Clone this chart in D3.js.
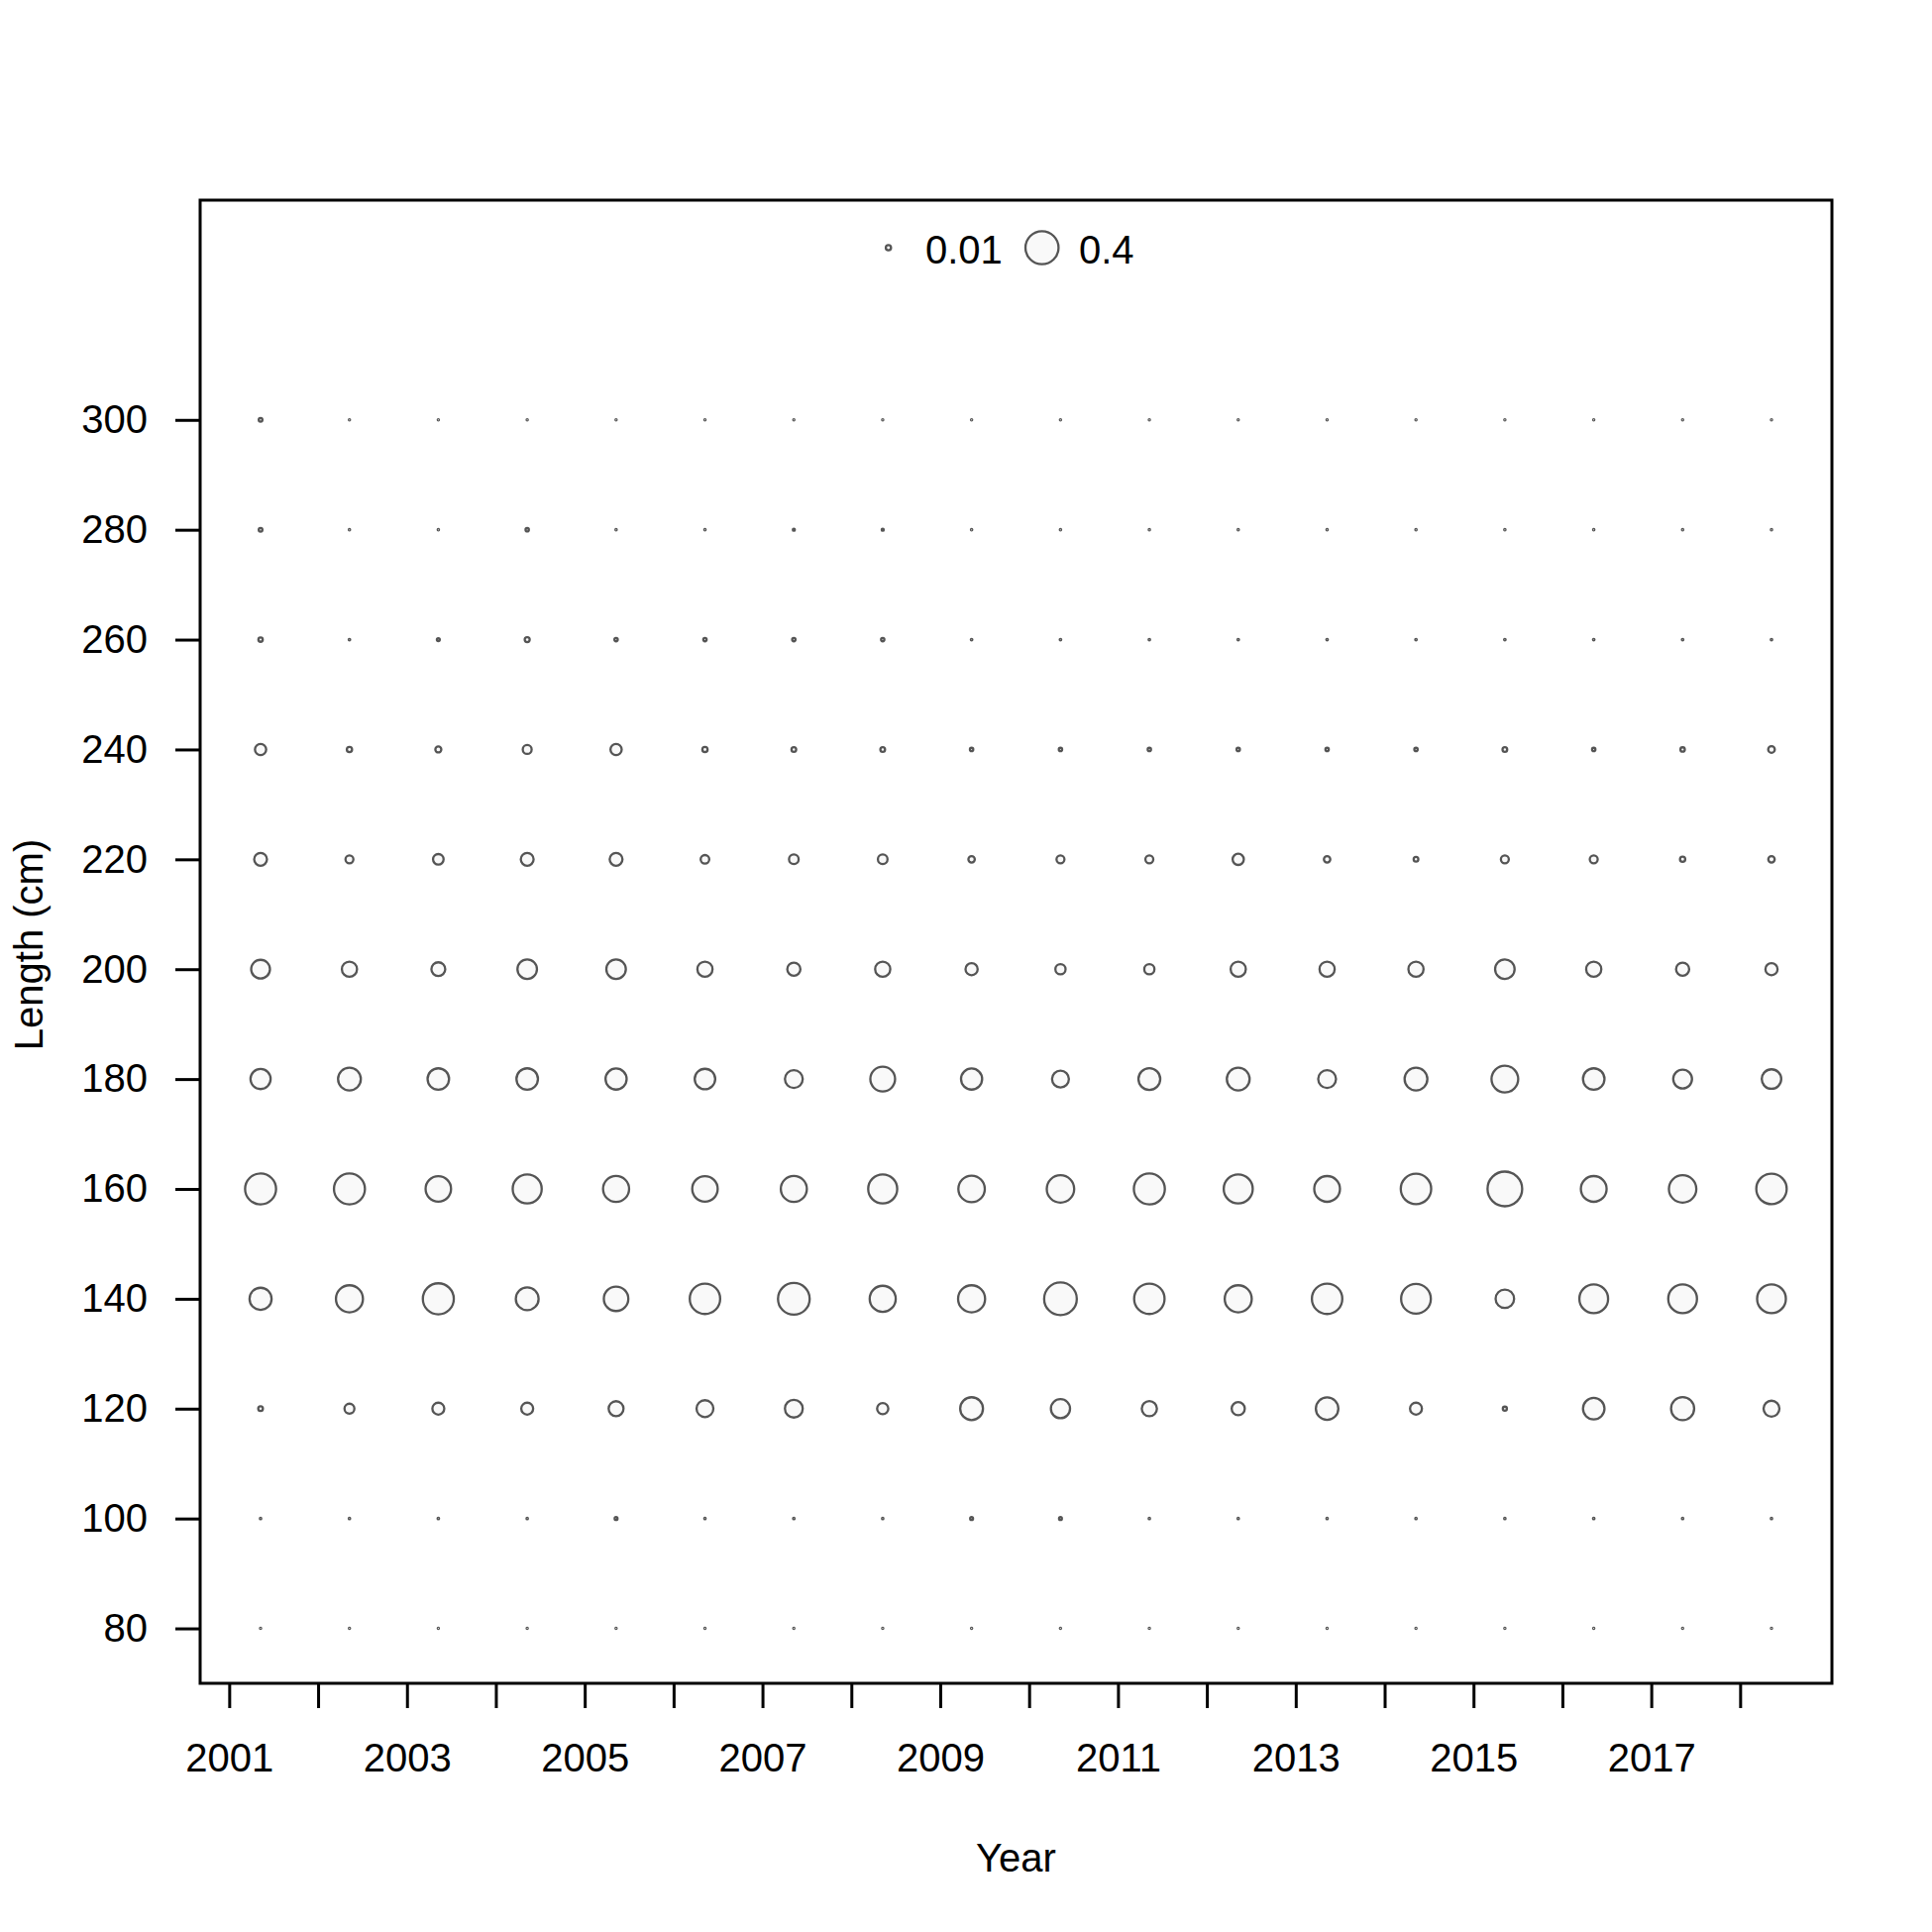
<!DOCTYPE html>
<html>
<head>
<meta charset="utf-8">
<script src="https://cdn.jsdelivr.net/npm/d3@7"></script>
<style>
  body { margin: 0; background: #fff; }
  text { font-family: "Liberation Sans", Arial, sans-serif; }
</style>
</head>
<body>
<script>
// years and length bins
const years = d3.range(2001, 2019)
const lengths = [80, 100, 120, 140, 160, 180, 200, 220, 240, 260, 280, 300]

// proportions by length bin, one value per year 2001..2018
const len80  = [0.0005, 0.0005, 0.0005, 0.0005, 0.0005, 0.0005, 0.0005, 0.0005, 0.0005, 0.0005, 0.0005, 0.0005, 0.0005, 0.0005, 0.0005, 0.0005, 0.0005, 0.0005]
const len100 = [0.0007, 0.0007, 0.0008, 0.0007, 0.003, 0.0007, 0.0008, 0.0007, 0.003, 0.003, 0.0007, 0.0007, 0.0007, 0.0007, 0.0007, 0.0008, 0.0007, 0.0007]
const len120 = [0.008, 0.036, 0.052, 0.052, 0.081, 0.104, 0.116, 0.046, 0.190, 0.134, 0.084, 0.063, 0.185, 0.052, 0.006, 0.169, 0.195, 0.092]
const len140 = [0.178, 0.267, 0.351, 0.190, 0.219, 0.338, 0.367, 0.248, 0.267, 0.390, 0.338, 0.267, 0.338, 0.323, 0.125, 0.302, 0.302, 0.302]
const len160 = [0.351, 0.351, 0.237, 0.308, 0.248, 0.237, 0.248, 0.308, 0.256, 0.275, 0.351, 0.308, 0.242, 0.338, 0.439, 0.242, 0.275, 0.338]
const len180 = [0.148, 0.190, 0.169, 0.169, 0.163, 0.154, 0.116, 0.224, 0.163, 0.104, 0.174, 0.190, 0.116, 0.190, 0.261, 0.169, 0.129, 0.139]
const len200 = [0.129, 0.084, 0.070, 0.139, 0.139, 0.084, 0.063, 0.084, 0.054, 0.038, 0.038, 0.084, 0.084, 0.084, 0.139, 0.084, 0.063, 0.054]
const len220 = [0.060, 0.023, 0.041, 0.060, 0.060, 0.027, 0.034, 0.034, 0.015, 0.023, 0.023, 0.046, 0.015, 0.008, 0.023, 0.023, 0.010, 0.015]
const len240 = [0.046, 0.010, 0.013, 0.029, 0.046, 0.010, 0.008, 0.008, 0.004, 0.004, 0.004, 0.004, 0.004, 0.004, 0.008, 0.004, 0.007, 0.016]
const len260 = [0.007, 0.0008, 0.003, 0.009, 0.004, 0.004, 0.004, 0.004, 0.0008, 0.0008, 0.0008, 0.0008, 0.0008, 0.0008, 0.0008, 0.0008, 0.0008, 0.0008]
const len280 = [0.005, 0.0006, 0.0006, 0.004, 0.0006, 0.0006, 0.0015, 0.0015, 0.0006, 0.0006, 0.0006, 0.0006, 0.0006, 0.0006, 0.0006, 0.0006, 0.0006, 0.0006]
const len300 = [0.005, 0.0005, 0.0005, 0.0005, 0.0005, 0.0005, 0.0005, 0.0005, 0.0005, 0.0005, 0.0005, 0.0005, 0.0005, 0.0005, 0.0005, 0.0005, 0.0005, 0.0005]

const legendValues = [0.01, 0.4]

const rows = [len80, len100, len120, len140, len160, len180, len200, len220, len240, len260, len280, len300]

// the points sit a bit after the start of each year
const yearOffset = 0.353

let points = []
lengths.forEach((len, i) => {
    years.forEach((yr, j) => {
        points.push({ year: yr + yearOffset, length: len, value: rows[i][j] })
    })
})

//------------------------------------------------------------------------------

const W = 1950, H = 1950
const plot = { left: 202, right: 1849, top: 202, bottom: 1699 }

const svg = d3.select("body")
    .append("svg")
    .attr("width", W)
    .attr("height", H)

let x = d3.scaleLinear()
    .domain([2000.673, 2019.033])
    .range([plot.left, plot.right])

let y = d3.scaleLinear()
    .domain([70, 340])
    .range([plot.bottom, plot.top])

let r = d3.scaleSqrt()
    .domain([0, 0.4])
    .range([0, 16.7])

const bubbleStroke = "#555555"
const bubbleFill = "#f9f9f9"

//------------------------------------------------------------------------------

const xAxis = svg.append("g")
    .attr("transform", "translate(0," + plot.bottom + ")")
    .call(d3.axisBottom(x)
        .tickValues(years)
        .tickSize(25)
        .tickPadding(36)
        .tickFormat(d => (d % 2 === 1 ? String(d) : "")))

const yAxis = svg.append("g")
    .attr("transform", "translate(" + plot.left + ",0)")
    .call(d3.axisLeft(y)
        .tickValues(lengths)
        .tickSize(25)
        .tickPadding(28))

;[xAxis, yAxis].forEach(ax => {
    ax.select(".domain").remove()
    ax.selectAll(".tick line").attr("stroke", "#000").attr("stroke-width", 3)
    ax.selectAll(".tick text")
        .attr("fill", "#000")
        .style("font-size", "40px")
        .style("font-family", "'Liberation Sans', Arial, sans-serif")
})

//------------------------------------------------------------------------------

svg.append("g")
    .selectAll("circle")
    .data(points)
    .join("circle")
    .attr("cx", d => x(d.year))
    .attr("cy", d => y(d.length))
    .attr("r", d => r(d.value))
    .attr("fill", bubbleFill)
    .attr("stroke", bubbleStroke)
    .attr("stroke-width", 2.3)

// box round the plot
svg.append("rect")
    .attr("x", plot.left)
    .attr("y", plot.top)
    .attr("width", plot.right - plot.left)
    .attr("height", plot.bottom - plot.top)
    .attr("fill", "none")
    .attr("stroke", "#000")
    .attr("stroke-width", 3)

//------------------------------------------------------------------------------
// legend

const legendX = [896.7, 1051.7]
const legendTextX = [934, 1089]
const legendY = 250

const legend = svg.append("g")
legendValues.forEach((v, i) => {
    legend.append("circle")
        .attr("cx", legendX[i])
        .attr("cy", legendY)
        .attr("r", r(v))
        .attr("fill", bubbleFill)
        .attr("stroke", bubbleStroke)
        .attr("stroke-width", 2.3)
    legend.append("text")
        .attr("x", legendTextX[i])
        .attr("y", legendY + 16)
        .style("font-size", "40px")
        .text(String(v))
})

//------------------------------------------------------------------------------
// axis titles

svg.append("text")
    .attr("text-anchor", "middle")
    .attr("x", (plot.left + plot.right) / 2)
    .attr("y", 1889)
    .style("font-size", "40px")
    .text("Year")

svg.append("text")
    .attr("text-anchor", "middle")
    .attr("transform", "translate(43," + ((plot.top + plot.bottom) / 2 + 3) + ") rotate(-90)")
    .style("font-size", "40px")
    .text("Length (cm)")
</script>
</body>
</html>
